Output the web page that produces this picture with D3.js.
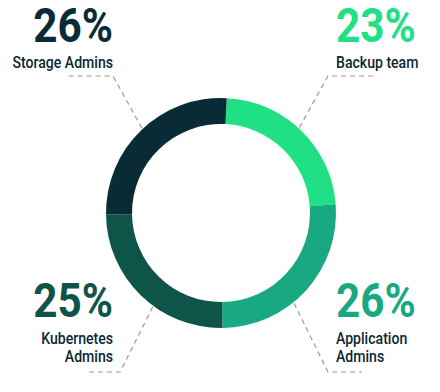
<!DOCTYPE html>
<html lang="en">
<head>
  <meta charset="UTF-8">
  <title>Team share donut</title>
  <script src="https://d3js.org/d3.v7.min.js"></script>
  <style>
    body { margin: 0; background: #fff; }
    svg { display: block; font-family: Roboto, "Noto Sans", sans-serif; }
  </style>
</head>
<body>
  <svg id="chart" width="440" height="392"></svg>

  <script>
    // data, clockwise from 12 o'clock
    const categories = ["Backup team", "Application Admins", "Kubernetes Admins", "Storage Admins"];
    const nameLines = [["Backup team"], ["Application", "Admins"], ["Kubernetes", "Admins"], ["Storage Admins"]];
    const shares = [23, 26, 25, 26];
    const palette = ["#20e085", "#19a982", "#0e5449", "#082b36"];

    const width = 440;
    const height = 392;
    const cx = 221, cy = 213;
    const outerR = 115, innerR = 89;
    const startAngle = 0.05;

    // label placement per quadrant
    const layout = {
      tr: { x: 336, anchor: "start", pctY: 42, nameY: 68, elbowX: 328, endX: 375, lineY: 76, angle: 42.5 },
      br: { x: 336, anchor: "start", pctY: 317, nameY: 344, elbowX: 328, endX: 362, lineY: 372, angle: 141 },
      bl: { x: 113, anchor: "end", pctY: 317, nameY: 344, elbowX: 120, endX: 88, lineY: 372, angle: 216 },
      tl: { x: 113, anchor: "end", pctY: 42, nameY: 68, elbowX: 113, endX: 67, lineY: 76, angle: 317 }
    };

    const svg = d3.select("#chart");

    const pie = d3.pie().sort(null)
      .startAngle(startAngle).endAngle(startAngle + 2 * Math.PI)
      .value(d => d);
    const arc = d3.arc().innerRadius(innerR).outerRadius(outerR);
    const arcs = pie(shares);

    function quadrant(a) {
      const mid = (a.startAngle + a.endAngle) / 2;
      const right = mid < Math.PI;
      const bottom = mid > Math.PI / 2 && mid < 3 * Math.PI / 2;
      return (bottom ? "b" : "t") + (right ? "r" : "l");
    }

    // leader lines (under the ring)
    const leaders = svg.append("g")
      .attr("fill", "none")
      .attr("stroke", "#9a9a9a")
      .attr("stroke-width", 1.2)
      .attr("stroke-dasharray", "5,4");

    arcs.forEach(a => {
      const L = layout[quadrant(a)];
      const p = d3.pointRadial(L.angle * Math.PI / 180, outerR + 1);
      leaders.append("path")
        .attr("d", d3.line()([[cx + p[0], cy + p[1]], [L.elbowX, L.lineY], [L.endX, L.lineY]]));
    });

    // ring
    svg.append("g")
      .attr("transform", `translate(${cx},${cy})`)
      .selectAll("path")
      .data(arcs)
      .join("path")
      .attr("d", arc)
      .attr("fill", (d, i) => palette[i]);

    // labels
    const sx = 0.88;
    arcs.forEach((a, i) => {
      const L = layout[quadrant(a)];
      const g = svg.append("g").attr("text-anchor", L.anchor);

      g.append("text")
        .attr("transform", `translate(${L.x},${L.pctY}) scale(${sx},1)`)
        .attr("font-size", 48)
        .attr("font-weight", 700)
        .attr("fill", palette[i])
        .text(shares[i] + "%");

      nameLines[i].forEach((line, j) => {
        g.append("text")
          .attr("transform", `translate(${L.x},${L.nameY + j * 18}) scale(${sx},1)`)
          .attr("font-size", 16)
          .attr("font-weight", 500)
          .attr("fill", "#0a2833")
          .text(line);
      });
    });
  </script>
</body>
</html>
